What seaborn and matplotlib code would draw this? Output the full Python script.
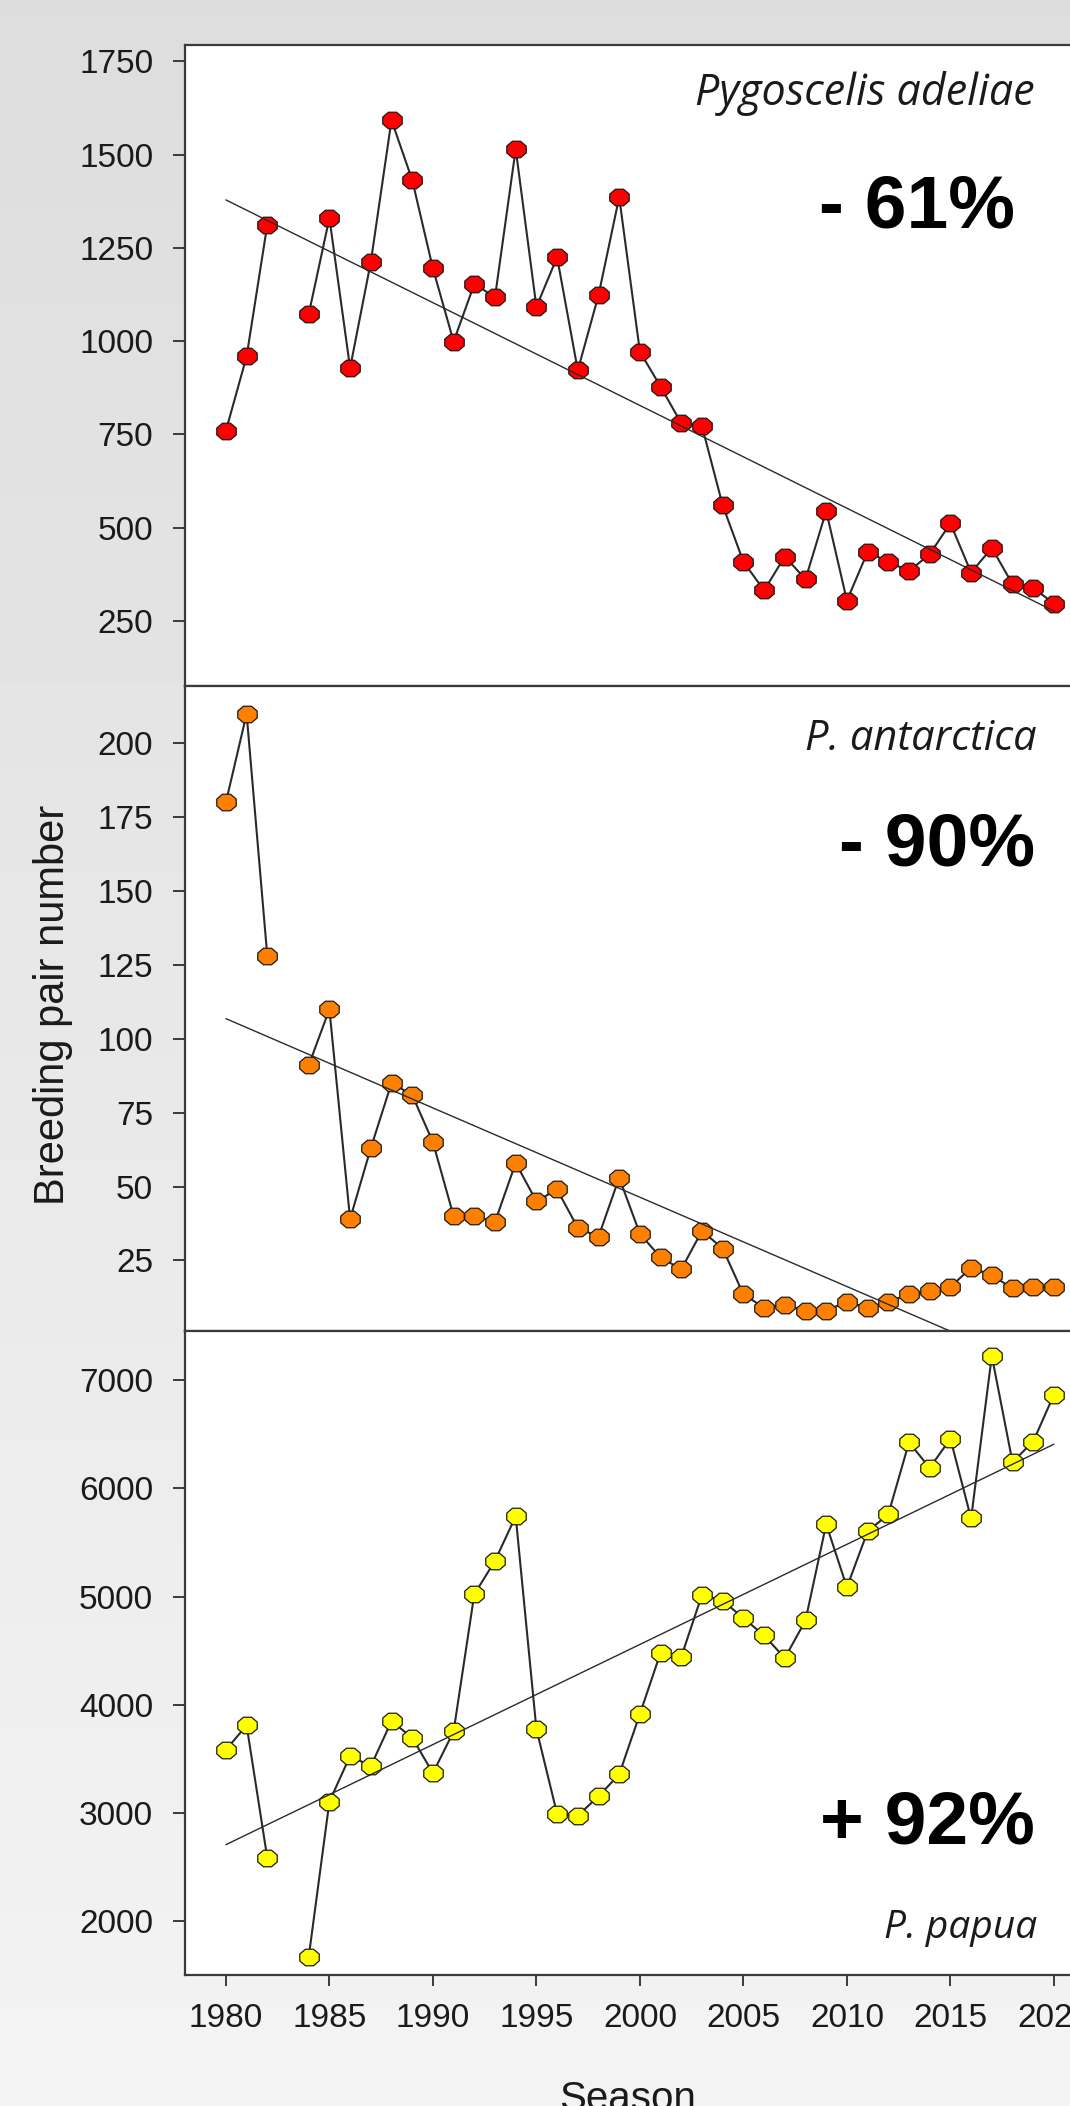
import numpy as np
import pandas as pd
import matplotlib
matplotlib.use("Agg")
import matplotlib.pyplot as plt
import seaborn as sns
from matplotlib.path import Path

# breeding pairs per season, 1983 not counted
years = list(range(1980, 2021))

adeliae = [760, 959, 1312, np.nan, 1072, 1330, 928, 1212, 1592, 1432,
           1195, 999, 1153, 1118, 1515, 1092, 1225, 922, 1123, 1386,
           972, 878, 780, 772, 560, 409, 332, 423, 362, 545,
           305, 435, 409, 384, 429, 512, 380, 446, 349, 339, 297]
antarctica = [180, 210, 128, np.nan, 91, 110, 39, 63, 85, 81,
              65, 40, 40, 38, 58, 45, 49, 36, 33, 53,
              34, 26, 22, 35, 29, 13.5, 9, 10, 8, 8,
              11, 9, 11, 13.5, 14.5, 16, 22.5, 20, 15.5, 16, 16]
papua = [3582, 3809, 2581, np.nan, 1665, 3103, 3526, 3431, 3847, 3695,
         3367, 3752, 5021, 5331, 5743, 3775, 2989, 2974, 3152, 3355,
         3914, 4481, 4443, 5017, 4961, 4802, 4640, 4431, 4779, 5670,
         5086, 5603, 5761, 6426, 6191, 6460, 5723, 7227, 6245, 6434, 6868]

species = ["Pygoscelis adeliae", "P. antarctica", "P. papua"]
changes = ["- 61%", "- 90%", "+ 92%"]
colors = ["#ff0000", "#ff8000", "#ffff00"]
y_ticks = [np.arange(250, 1751, 250), np.arange(25, 201, 25), np.arange(2000, 7001, 1000)]
x_ticks = np.arange(1980, 2021, 5)

sns.set_theme(style="white")
plt.rcParams["font.family"] = ["Liberation Sans", "DejaVu Sans"]

W, H = 1070, 2106
fig = plt.figure(figsize=(W / 100, H / 100), dpi=100)

def fx(px):
    return px / W

def fy(py):
    return 1 - py / H

# grey gradient behind everything
bg = fig.add_axes([0, 0, 1, 1], zorder=0)
grad = np.linspace(221, 243, 256).reshape(-1, 1) / 255
bg.imshow(grad, aspect="auto", cmap="gray", vmin=0, vmax=1, extent=[0, 1, 0, 1])
bg.set_axis_off()

# panel boxes in pixels (top, bottom) and their y ranges
boxes = [(44.5, 686), (686, 1331), (1331, 1975)]
ylims = [(76, 1795), (1.1, 219.4), (1499, 7457)]
x0, x1 = 1978.0, 2022.7
px_per_year = 20.7
left_px = 184.5
width_px = (x1 - x0) * px_per_year

ang = np.deg2rad(22.5 + 45 * np.arange(9))
octagon = Path(np.column_stack([np.cos(ang), 0.85 * np.sin(ang)]), closed=True)

series = [adeliae, antarctica, papua]
axes = []
for i, vals in enumerate(series):
    top, bot = boxes[i]
    ax = fig.add_axes([fx(left_px), fy(bot), width_px / W, (bot - top) / H], zorder=2 + i)
    ax.set_facecolor("white")

    df = pd.DataFrame({"year": years, "pairs": vals}).dropna()
    df["segment"] = (df["year"] > 1983).astype(int)

    sns.lineplot(data=df, x="year", y="pairs", units="segment", estimator=None,
                 color="#2a2a2a", linewidth=1.5, marker=octagon, markersize=14,
                 markerfacecolor=colors[i], markeredgecolor="#1a1a1a",
                 markeredgewidth=0.9, ax=ax)

    slope, icept = np.polyfit(df["year"], df["pairs"], 1)
    tx = np.array([years[0], years[-1]])
    sns.lineplot(x=tx, y=slope * tx + icept, color="#2a2a2a", linewidth=1.0, ax=ax)

    ax.set_xlim(x0, x1)
    ax.set_ylim(*ylims[i])
    ax.set_yticks(y_ticks[i])
    ax.set_xlabel("")
    ax.set_ylabel("")
    ax.tick_params(axis="y", direction="out", length=8.5, width=1.4, pad=14,
                   labelsize=24, colors="#3a3a3a", labelcolor="#1a1a1a", left=True)
    if i == 2:
        ax.set_xticks(x_ticks)
        ax.tick_params(axis="x", direction="out", length=8, width=1.4, pad=12,
                       labelsize=24, colors="#3a3a3a", labelcolor="#1a1a1a", bottom=True)
    else:
        ax.set_xticks([])
    for s in ax.spines.values():
        s.set_color("#3a3a3a")
        s.set_linewidth(1.6)
    axes.append(ax)

# species names and change labels
name_pos = [(1035, 105, 31), (1037, 750, 30), (1037, 1938, 28)]
pct_pos = [(1015, 227), (1035, 866), (1035, 1844)]
for i in range(3):
    nx, ny, ns = name_pos[i]
    fig.text(fx(nx), fy(ny), species[i], ha="right", va="baseline", fontsize=ns,
             family=["Open Sans", "DejaVu Sans"], style="italic", color="#1a1a1a", zorder=10)
    px, py = pct_pos[i]
    fig.text(fx(px), fy(py), changes[i], ha="right", va="baseline", fontsize=54,
             fontweight="bold", color="black", zorder=10)

fig.text(fx(53), fy(1005), "Breeding pair number", rotation=90, ha="center", va="center",
         fontsize=30, color="#1a1a1a", zorder=10)
fig.text(fx(628), fy(2110.5), "Season", ha="center", va="baseline",
         fontsize=29, color="#1a1a1a", zorder=10)

fig.savefig("out.png", dpi=100)
